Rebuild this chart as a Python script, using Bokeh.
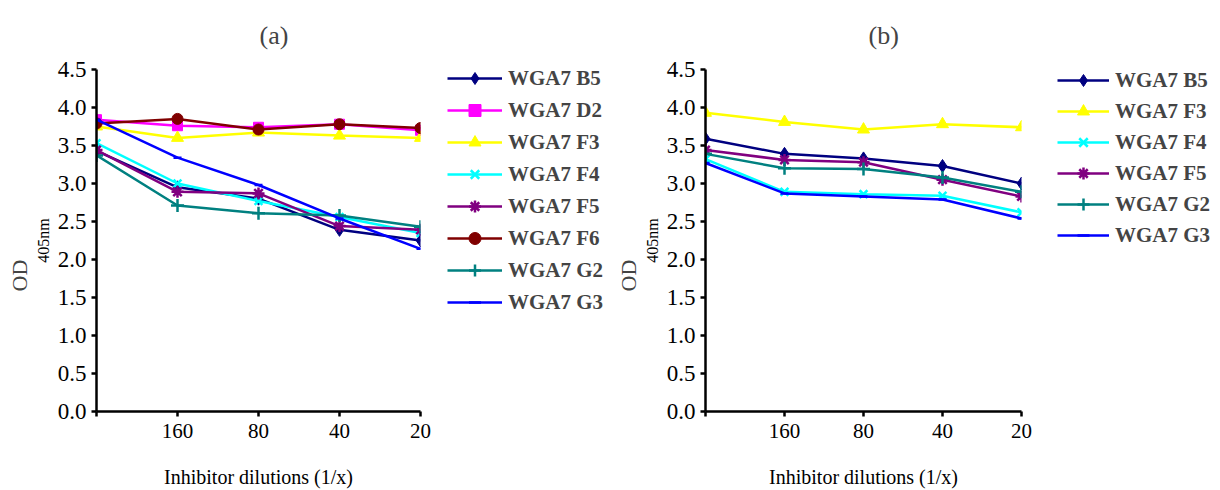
from bokeh.plotting import figure
from bokeh.layouts import row
from bokeh.models import (Legend, LegendItem, Title, FixedTicker, SingleIntervalTicker,
                          NumeralTickFormatter, Range1d)
from bokeh.embed import file_html
from bokeh.resources import INLINE

# ---------------- data ----------------
dilutions = ["", "160", "80", "40", "20"]

a_B5 = [3.43, 2.95, 2.80, 2.39, 2.25]
a_D2 = [3.84, 3.76, 3.74, 3.78, 3.70]
a_F3 = [3.75, 3.60, 3.67, 3.63, 3.60]
a_F4 = [3.53, 3.00, 2.77, 2.56, 2.35]
a_F5 = [3.44, 2.89, 2.87, 2.44, 2.39]
a_F6 = [3.79, 3.85, 3.71, 3.78, 3.73]
a_G2 = [3.37, 2.71, 2.61, 2.58, 2.43]
a_G3 = [3.84, 3.34, 2.98, 2.54, 2.14]

b_B5 = [3.59, 3.39, 3.33, 3.23, 3.00]
b_F3 = [3.93, 3.81, 3.71, 3.78, 3.74]
b_F4 = [3.32, 2.89, 2.86, 2.84, 2.62]
b_F5 = [3.44, 3.31, 3.28, 3.05, 2.83]
b_G2 = [3.39, 3.20, 3.19, 3.08, 2.89]
b_G3 = [3.27, 2.87, 2.83, 2.79, 2.54]

STYLE = {
    "WGA7 B5": ("#000080", "diamond", 13),
    "WGA7 D2": ("#FF00FF", "square", 10),
    "WGA7 F3": ("#FFFF00", "triangle", 12),
    "WGA7 F4": ("#00FFFF", "x", 11),
    "WGA7 F5": ("#800080", "asterisk", 12),
    "WGA7 F6": ("#800000", "circle", 11),
    "WGA7 G2": ("#008080", "cross", 13),
    "WGA7 G3": ("#0000FF", "dash", 8),
}

FONT = "Liberation Serif"
xs = list(range(len(dilutions)))


def draw_series(p, name, ys, visible=True):
    color, marker, size = STYLE[name]
    r1 = p.line(xs, ys, line_color=color, line_width=2.5, visible=visible)
    r2 = p.scatter(xs, ys, marker=marker, size=size, fill_color=color,
                   line_color=color, visible=visible,
                   line_width=2.5 if marker in ("x", "asterisk", "cross", "dash") else 1)
    return [r1, r2]


def make_panel(title, series, border_left, frame_w, border_right):
    width = border_left + frame_w + border_right
    p = figure(width=width, height=490, output_backend="svg", toolbar_location=None,
               x_range=Range1d(0, 4), y_range=Range1d(0, 4.5))
    p.min_border_left = border_left
    p.min_border_right = border_right
    p.min_border_top = 69
    p.min_border_bottom = 78
    p.outline_line_color = None
    p.xgrid.visible = False
    p.ygrid.visible = False

    p.title.text = title
    p.title.text_font = FONT
    p.title.text_font_size = "26px"
    p.title.text_font_style = "normal"
    p.title.align = "left"
    p.title.offset = 163
    p.title.vertical_align = "top"
    p.title.standoff = 36

    xa = p.xaxis[0]
    ya = p.yaxis[0]
    xa.ticker = FixedTicker(ticks=xs)
    xa.major_label_overrides = {i: d for i, d in enumerate(dilutions)}
    ya.ticker = SingleIntervalTicker(interval=0.5)
    ya.formatter = NumeralTickFormatter(format="0.0")
    for ax in (xa, ya):
        ax.axis_line_width = 2.5
        ax.axis_line_color = "black"
        ax.major_tick_line_width = 2.5
        ax.major_tick_line_color = "black"
        ax.major_tick_out = 5
        ax.major_tick_in = 0
        ax.minor_tick_line_color = None
        ax.major_label_text_font = FONT
        ax.major_label_text_color = "black"
        ax.axis_label_text_font = FONT
        ax.axis_label_text_font_style = "normal"
        ax.axis_label_text_color = "black"
    xa.major_label_text_font_size = "21px"
    ya.major_label_text_font_size = "23px"
    xa.major_label_standoff = 7
    ya.major_label_standoff = 5
    xa.axis_label = "Inhibitor dilutions (1/x)"
    xa.axis_label_text_font_size = "20px"
    xa.axis_label_standoff = 25

    # y label: "OD" with subscript "405nm"
    ya.axis_label = "405nm"
    ya.axis_label_text_font_size = "16px"
    ya.axis_label_standoff = 3
    p.add_layout(Title(text="OD", text_font=FONT, text_font_size="22px",
                       text_font_style="normal", align="left", offset=120,
                       standoff=0), "left")

    for name, ys in series:
        draw_series(p, name, ys)
    return p


def make_legend(series, width, loc, spacing, glyph_w):
    q = figure(width=width, height=490, output_backend="svg", toolbar_location=None,
               x_axis_location=None, y_axis_location=None,
               x_range=Range1d(0, 4), y_range=Range1d(0, 4.5))
    q.frame_align = False
    q.min_border = 0
    q.min_border_left = 0
    q.min_border_right = 0
    q.min_border_top = 0
    q.min_border_bottom = 0
    q.outline_line_color = None
    q.xgrid.visible = False
    q.ygrid.visible = False
    items = []
    for name, ys in series:
        rs = draw_series(q, name, ys, visible=False)
        items.append(LegendItem(label=name, renderers=rs))
    legend = Legend(items=items, location=loc, padding=0, margin=0,
                    spacing=spacing, glyph_width=glyph_w, glyph_height=30,
                    label_height=20, label_standoff=6,
                    label_text_font=FONT, label_text_font_size="21px",
                    label_text_font_style="bold", border_line_color=None,
                    background_fill_alpha=0)
    q.add_layout(legend, "center")
    return q


series_a = [("WGA7 B5", a_B5), ("WGA7 D2", a_D2), ("WGA7 F3", a_F3),
            ("WGA7 F4", a_F4), ("WGA7 F5", a_F5), ("WGA7 F6", a_F6),
            ("WGA7 G2", a_G2), ("WGA7 G3", a_G3)]
series_b = [("WGA7 B5", b_B5), ("WGA7 F3", b_F3), ("WGA7 F4", b_F4),
            ("WGA7 F5", b_F5), ("WGA7 G2", b_G2), ("WGA7 G3", b_G3)]

pa = make_panel("(a)", series_a, 96, 324, 27)     # 447 wide
la = make_legend(series_a, 163, (0, 173), 2, 55)
pb = make_panel("(b)", series_b, 95, 316, 36)     # 447 wide
lb = make_legend(series_b, 163, (0, 240), 1, 52)

layout = row(pa, la, pb, lb, spacing=0)
open("out.html", "w").write(file_html(layout, INLINE))
